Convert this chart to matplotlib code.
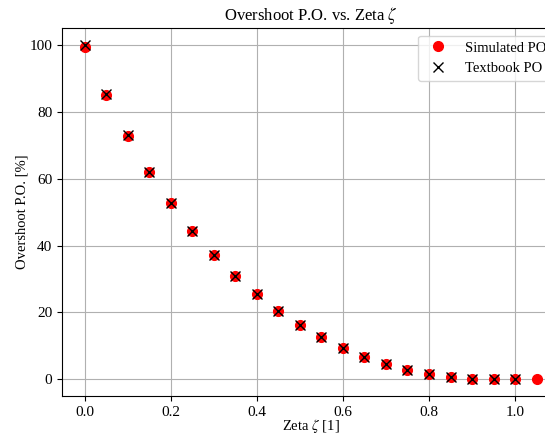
import matplotlib
matplotlib.use('Agg')
import matplotlib.pyplot as plt

plt.rcParams['font.family'] = ['Liberation Serif', 'DejaVu Serif']
plt.rcParams['mathtext.fontset'] = 'stix'
plt.rcParams['font.size'] = 10.5

zeta_sim = [0.0, 0.05, 0.1, 0.15, 0.2, 0.25, 0.3, 0.35, 0.4, 0.45, 0.5,
            0.55, 0.6, 0.65, 0.7, 0.75, 0.8, 0.85, 0.9, 0.95, 1.0, 1.05]
po_sim = [99.3, 85.0, 72.7, 62.0, 52.6, 44.4, 37.2, 30.9, 25.4, 20.5, 16.3,
          12.6, 9.5, 6.8, 4.6, 2.8, 1.5, 0.6, 0.15, 0.0, 0.0, 0.0]

zeta_tb = [0.0, 0.05, 0.1, 0.15, 0.2, 0.25, 0.3, 0.35, 0.4, 0.45, 0.5,
           0.55, 0.6, 0.65, 0.7, 0.75, 0.8, 0.85, 0.9, 0.95, 1.0]
po_tb = [100.0, 85.45, 72.92, 62.09, 52.66, 44.43, 37.23, 30.92, 25.38, 20.53, 16.30,
         12.63, 9.48, 6.81, 4.60, 2.84, 1.52, 0.63, 0.15, 0.01, 0.0]

fig, ax = plt.subplots(figsize=(5.45, 4.41), dpi=100)
# axes runs past the right edge, as in the reference
fig.subplots_adjust(left=0.114, right=1.026, top=0.936, bottom=0.102)

ax.plot(zeta_sim, po_sim, 'o', color='red', markersize=7, label='Simulated PO')
ax.plot(zeta_tb, po_tb, 'x', color='black', markersize=7, label='Textbook PO')

ax.set_title(r'Overshoot P.O. vs. Zeta $\zeta$', fontsize=12)
ax.set_xlabel(r'Zeta $\zeta$ [1]', labelpad=-1)
ax.set_ylabel('Overshoot P.O. [%]', labelpad=1)
ax.tick_params(labelsize=11)
ax.grid(True)
ax.legend(loc='upper right', fontsize=10.5)

fig.savefig('out.png', dpi=100)
